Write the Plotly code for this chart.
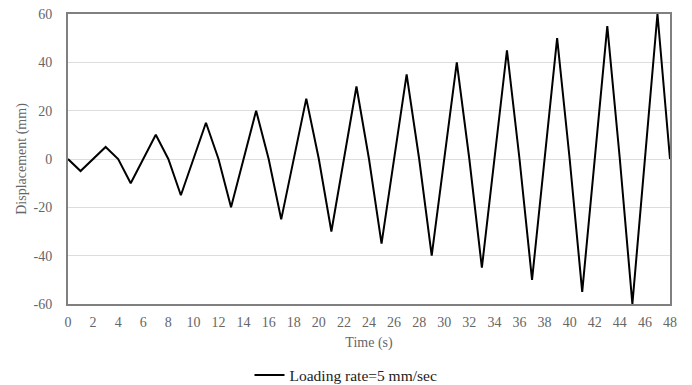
import plotly.graph_objects as go

time_s = [0, 1, 3, 4, 5, 7, 8, 9, 11, 12, 13, 15, 16, 17, 19, 20, 21, 23, 24,
          25, 27, 28, 29, 31, 32, 33, 35, 36, 37, 39, 40, 41, 43, 44, 45, 47, 48]
displacement_mm = [0, -5, 5, 0, -10, 10, 0, -15, 15, 0, -20, 20, 0, -25, 25, 0, -30, 30, 0,
                   -35, 35, 0, -40, 40, 0, -45, 45, 0, -50, 50, 0, -55, 55, 0, -60, 60, 0]
x_ticks = list(range(0, 49, 2))
y_ticks = [-60, -40, -20, 0, 20, 40, 60]

font_family = "Liberation Serif, DejaVu Serif, serif"
grey = "#666666"

fig = go.Figure()
fig.add_trace(go.Scatter(
    x=time_s, y=displacement_mm, mode="lines",
    line=dict(color="black", width=2),
    name="Loading rate=5 mm/sec",
))

fig.update_layout(
    width=692, height=385,
    margin=dict(l=68, r=22, t=14, b=81, autoexpand=False),
    paper_bgcolor="white", plot_bgcolor="white",
    font=dict(family=font_family, size=14, color=grey),
    showlegend=True,
    legend=dict(orientation="h", xref="container", x=0.5, xanchor="center",
                yref="container", y=0.025, yanchor="middle",
                font=dict(family=font_family, size=15.5, color="#222222"),
                itemwidth=30),
)
fig.update_xaxes(
    range=[0, 48], tickvals=x_ticks, ticktext=[str(v) for v in x_ticks],
    showgrid=False, zeroline=False,
    showline=True, linecolor="#808080", linewidth=2, mirror=True,
    ticks="outside", ticklen=4, tickcolor="rgba(0,0,0,0)",
    tickfont=dict(size=14, color=grey),
    title=dict(text="Time (s)", font=dict(size=14, color=grey), standoff=8),
)
fig.update_yaxes(
    range=[-60, 60], tickvals=y_ticks, ticktext=[str(v) for v in y_ticks],
    showgrid=True, gridcolor="#dddddd", gridwidth=1, zeroline=False,
    showline=True, linecolor="#808080", linewidth=2, mirror=True,
    ticks="outside", ticklen=11, tickcolor="rgba(0,0,0,0)",
    tickfont=dict(size=14, color=grey),
    title=dict(text="Displacement (mm)", font=dict(size=14, color=grey), standoff=4),
)

fig.write_html("out.html")
